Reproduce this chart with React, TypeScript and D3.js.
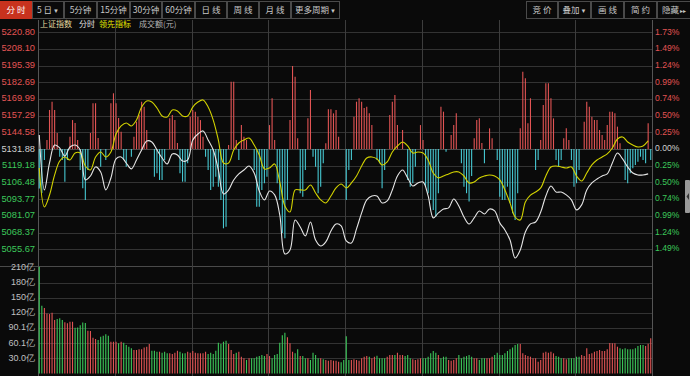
import React from "react";
import * as d3 from "d3";

const preClose = 5131.88;
const rowStep = 12.703;

const leftTicks = ["5220.80", "5208.10", "5195.39", "5182.69", "5169.99", "5157.29", "5144.58", "5131.88", "5119.18", "5106.48", "5093.77", "5081.07", "5068.37", "5055.67"];
const rightTicks = ["1.73%", "1.49%", "1.24%", "0.99%", "0.74%", "0.50%", "0.25%", "0.00%", "0.25%", "0.50%", "0.74%", "0.99%", "1.24%", "1.49%"];
const volTickLabels = ["210亿", "180亿", "150亿", "120亿", "90.1亿", "60.1亿", "30.0亿"];
const volTickValues = [210, 180, 150, 120, 90.1, 60.1, 30.0];

const leftButtons = ["分 时", "5 日", "5分钟", "15分钟", "30分钟", "60分钟", "日 线", "周 线", "月 线", "更多周期"];
const leftButtonMarks = ["", "▼", "", "", "", "", "", "", "", "▼"];
const rightButtons = ["竞 价", "叠加", "画 线", "简 约", "隐藏"];
const rightButtonMarks = ["", "▼", "", "", "▸▸"];
const legendItems = ["上证指数", "分时", "领先指标", "成交额(元)"];

// price (white) sampled every 2 minutes
const priceLine = [
  5142.6, 5100.8, 5121.3, 5135.0, 5132.7, 5126.6, 5133.5, 5135.0, 5131.2, 5108.4,
  5111.4, 5118.3, 5114.5, 5100.8, 5109.9, 5124.4, 5125.9, 5121.3, 5116.8, 5123.6,
  5131.2, 5138.1, 5137.3, 5131.2, 5125.1, 5120.6, 5128.2, 5127.4, 5122.8, 5123.6,
  5138.8, 5143.4, 5145.7, 5138.8, 5131.2, 5116.0, 5097.7, 5100.8, 5108.4, 5113.0,
  5116.0, 5119.0, 5113.7, 5100.0, 5093.2, 5100.0, 5097.0, 5081.7, 5052.1, 5055.1,
  5077.9, 5072.6, 5065.8, 5076.4, 5062.7, 5058.1, 5061.2, 5069.5, 5074.9, 5073.4,
  5062.0, 5060.4, 5071.1, 5083.3, 5093.2, 5096.2, 5096.2, 5090.9, 5092.4, 5100.8,
  5111.4, 5116.0, 5109.9, 5103.8, 5106.1, 5106.9, 5096.2, 5079.5, 5083.3, 5086.3,
  5087.1, 5093.9, 5088.6, 5080.2, 5074.9, 5079.5, 5084.8, 5082.5, 5086.3, 5084.8,
  5075.7, 5070.3, 5062.7, 5049.0, 5055.1, 5068.8, 5074.9, 5076.4, 5084.0, 5096.2,
  5103.8, 5099.2, 5099.2, 5097.0, 5093.2, 5085.6, 5089.4, 5100.8, 5106.1, 5109.1,
  5111.4, 5113.0, 5121.3, 5128.9, 5124.4, 5118.3, 5113.7, 5112.2, 5112.2, 5113.0,
];

// leading indicator (yellow) sampled every 2 minutes
const leadLine = [
  5117.5, 5087.8, 5096.9, 5112.2, 5122.8, 5125.9, 5123.6, 5128.9, 5128.9, 5119.0,
  5116.0, 5125.9, 5129.7, 5125.9, 5129.7, 5143.4, 5149.5, 5151.8, 5149.5, 5154.0,
  5163.9, 5168.5, 5167.7, 5163.2, 5157.1, 5156.3, 5161.7, 5160.9, 5157.1, 5157.1,
  5163.9, 5167.7, 5169.3, 5163.9, 5154.0, 5138.8, 5121.3, 5121.3, 5131.2, 5136.5,
  5138.8, 5140.3, 5135.0, 5127.4, 5116.8, 5117.5, 5120.6, 5106.9, 5088.6, 5084.0,
  5100.8, 5100.8, 5100.8, 5104.6, 5098.5, 5093.2, 5090.9, 5096.2, 5102.3, 5105.3,
  5102.3, 5106.1, 5111.4, 5119.0, 5125.1, 5125.9, 5124.4, 5119.8, 5122.1, 5129.7,
  5134.3, 5137.3, 5134.3, 5128.9, 5129.7, 5128.9, 5123.6, 5113.7, 5110.0, 5111.4,
  5113.0, 5114.5, 5114.5, 5111.4, 5106.1, 5106.9, 5109.9, 5111.4, 5112.2, 5111.4,
  5108.4, 5100.8, 5090.9, 5080.2, 5077.9, 5091.6, 5096.9, 5099.2, 5102.3, 5111.4,
  5118.3, 5119.0, 5118.3, 5117.5, 5118.3, 5111.4, 5107.6, 5113.7, 5119.8, 5123.6,
  5125.9, 5128.2, 5132.7, 5139.6, 5141.1, 5137.3, 5135.0, 5133.5, 5134.3, 5138.1,
];

// buy/sell strength bars around the previous close (index points), one per minute
const flow = [
  -30, -33.4, -8.3, 6.9, 29.8, 36.1, 29.8, 12.3, -5.8, -8.3,
  -24.8, -8.3, 9.4, 22.1, 19.9, 6.9, -15.9, -29.8, -38.7, -15.9,
  12.3, 34.9, 34.9, 8.4, -13.4, 0, -8.3, 0, 34.9, 42.5,
  34.9, 23.7, 13.2, -8.3, -13.4, 0, -5.8, 9.4, 20.9, 26,
  36.1, 32.3, 14.5, 0, 0, -21, -18.4, -23.5, -23.5, -8.3,
  0, 23.4, 26, 22.1, 4.6, -18.4, -24.8, -24.8, -10.8, 24.7,
  29.8, 28.5, 24.7, 22.1, 9.4, -5.8, -15.9, -31.1, -28.6, -21,
  -28.6, -38.7, -60.3, -59.1, 3.1, 51.3, 51.3, 6.9, -8.3, 18.3,
  9.4, 6.9, 0, 0, -15.9, -43.8, -43.8, -31.1, -26, -21,
  18.3, 38.7, 6.9, -26, -38.7, -63.8, -67.9, -38.7, 22.1, 63.2,
  55.1, 8.2, -33.6, -36.2, -15.9, 23.4, 45, -5.8, -13.4, -33.6,
  -28.6, -10.8, 4.4, 30.3, 30.3, 27.2, 29.8, 9.4, 0, 0,
  -38.7, -15.9, -8.3, 24.7, 36.1, 38.7, 36.1, 31.3, 32.3, 27.2,
  18.3, 0, -8.3, -10.8, -29.8, -15.9, 0, 26, 36.1, 41.2,
  18.3, 0, 14.5, 0, -23.5, -28.6, -26, -13.4, 0, 18.3,
  6.9, -28.6, -33.6, -38.7, -46.3, -51.4, -33.6, 32.3, 28.5, -2,
  0, 10.7, 18.3, 27.2, 0, -10.8, -28.6, -33.6, -39.9, -20.5,
  8.2, 22.1, 23.4, 4.6, -10.8, 0, 15.8, 8.2, 0, -8.3,
  -36.2, -38.7, -38.7, -28.6, -41.2, -48.9, -54, -33.6, 15.8, 58.9,
  53.9, 19.6, 38.7, 0, -15.9, -8.3, 6.9, 33.6, 50.1, 50.1,
  38.7, 23.4, -8.3, -13.4, -8.3, 8.2, 15.8, 6.9, -8.3, -28.6,
  -26, -15.9, 0, 20.9, 36.1, 32.3, 24.7, 22.1, 22.1, 14.5,
  10.7, 6.9, 18.3, 28.5, 28.5, 27.2, 17.1, 4.4, 0, -23.5,
  -26, -18.4, -14.6, -12.1, -9.6, -5.8, -8.3, -10.8, 19.6, -8.3,
];

// turnover per minute (亿元)
const volume = [
  212, 134.6, 130, 119, 118, 120.7, 106, 108, 109.5, 106,
  101.5, 99.5, 102.7, 102.7, 91, 91.5, 96, 101, 100, 85,
  84.5, 71, 68.4, 66.4, 73, 75, 77.7, 75, 63, 63,
  63, 59.8, 63, 61, 56.5, 53.1, 49.9, 46.5, 46.5, 47.8,
  47.8, 51.5, 53.1, 58.4, 45.2, 45.2, 43.2, 43.2, 41.2, 43.2,
  39.9, 39.9, 38.6, 41.2, 45.2, 43.2, 39.9, 39.9, 43.2, 41.2,
  44.5, 41.2, 39.9, 39.9, 39.9, 43.2, 38.6, 41.2, 38.6, 45.2,
  61, 58.4, 63, 65, 58.4, 46.5, 38.6, 41.2, 43.2, 33.2,
  30, 26.6, 30, 30, 30, 33.2, 34.5, 36.6, 34.5, 38.6,
  34.5, 30, 36.6, 38.6, 61, 76, 81, 72, 59.8, 43.2,
  39.9, 47.8, 34.5, 34.5, 30, 30, 26.6, 41.2, 36.6, 30,
  30, 27.9, 26.6, 25.3, 26.6, 25.3, 25.3, 23.3, 22, 26.6,
  74, 26.6, 26.6, 27.9, 26.6, 25.3, 30, 33.2, 34.5, 33.2,
  30, 33.2, 34.9, 30, 30, 30, 33.2, 36.6, 36.6, 36.6,
  41.2, 36.6, 36.6, 34.5, 36.6, 30, 28, 26.6, 27.9, 30,
  30, 30, 33.2, 39.9, 44.5, 41.2, 36.6, 30, 33.2, 33.2,
  26.6, 25.3, 26.6, 30, 36.6, 30, 33.2, 34.5, 36.6, 33.2,
  30, 30, 26.6, 30, 30, 30, 30, 33.2, 36.6, 41.2,
  36.6, 36.6, 39.9, 44.5, 47.8, 51.5, 56.5, 58.4, 58.4, 39.9,
  36.6, 34.5, 33.2, 30, 30, 23.3, 26.6, 41.2, 43.2, 41.2,
  43.2, 39.9, 34.5, 33.2, 30, 30, 28, 30, 30, 30,
  33.2, 33.2, 36.6, 34.5, 49.9, 38.6, 39.9, 43.2, 44.5, 46.5,
  44.5, 44.5, 47.8, 60.5, 59.8, 59.8, 53.1, 49.9, 47.8, 49.9,
  47.8, 47.8, 47.8, 49.9, 54.5, 56.5, 56.5, 54.5, 59, 69.7,
];

// 1 = up (red), 0 = down (green)
const volumeUp = [
  0, 0, 1, 1, 1, 1, 1, 0, 0, 0,
  1, 1, 1, 1, 0, 0, 0, 0, 0, 1,
  1, 1, 1, 0, 0, 0, 0, 0, 1, 1,
  1, 0, 1, 0, 0, 0, 0, 1, 1, 1,
  1, 1, 1, 1, 0, 0, 0, 1, 0, 0,
  0, 1, 1, 1, 1, 0, 0, 0, 1, 1,
  1, 1, 1, 1, 1, 1, 0, 0, 0, 0,
  0, 0, 0, 0, 1, 1, 1, 0, 1, 1,
  1, 0, 1, 0, 0, 0, 0, 0, 0, 1,
  1, 0, 0, 0, 0, 0, 0, 1, 1, 1,
  0, 0, 1, 0, 0, 1, 0, 0, 0, 0,
  1, 0, 1, 1, 1, 1, 1, 1, 0, 0,
  0, 0, 1, 1, 1, 1, 1, 1, 1, 0,
  1, 1, 0, 0, 0, 0, 1, 1, 1, 0,
  1, 1, 1, 0, 0, 0, 1, 1, 1, 1,
  0, 0, 0, 0, 0, 0, 1, 0, 0, 0,
  1, 1, 1, 1, 0, 0, 0, 0, 0, 0,
  1, 1, 0, 0, 0, 1, 1, 1, 0, 0,
  0, 0, 0, 0, 0, 0, 0, 0, 1, 1,
  1, 1, 1, 1, 1, 1, 1, 1, 1, 1,
  1, 1, 0, 0, 0, 1, 1, 0, 0, 0,
  0, 0, 1, 1, 1, 1, 1, 1, 1, 1,
  1, 1, 1, 1, 1, 1, 1, 0, 0, 0,
  0, 0, 0, 0, 0, 0, 0, 1, 1, 1,
];

const W = 690;
const H = 376;
const PL = 38;
const PR = 652;
const MAIN_TOP = 32.3;
const MAIN_BOT = 265.9;
const VOL_BOT = 373.4;

const NUM_FONT = "'Liberation Sans', Arial, sans-serif";
const CJK_FONT = "'Noto Sans CJK SC', 'Noto Sans', sans-serif";

const RED = "#e25454";
const GREEN = "#3cc85a";
const CYAN = "#46c8d2";
const GRID = "#333333";
const VGRID = "#3d3d3d";

function ButtonLabel({ cx, text, mark, active }: { cx: number; text: string; mark: string; active: boolean }) {
  return (
    <text
      x={cx}
      y={10.5}
      textAnchor="middle"
      dominantBaseline="middle"
      fontFamily={CJK_FONT}
      fontSize={8.5}
      fill={active ? "#ffffff" : "#c8c8c8"}
    >
      {text}
      {mark ? (
        <tspan fontFamily={NUM_FONT} fontSize={6} dx={1}>
          {mark}
        </tspan>
      ) : null}
    </text>
  );
}

export default function App() {
  const x = d3.scaleBand<number>().domain(d3.range(240)).range([PL, PR]);
  const bw = x.bandwidth();
  const xc = (i: number) => (x(i) as number) + bw / 2;

  const y = d3
    .scaleLinear()
    .domain([preClose - 7 * rowStep, preClose + 7 * rowStep])
    .range([MAIN_BOT, MAIN_TOP]);
  const yVol = d3.scaleLinear().domain([0, 210]).range([VOL_BOT, 267.8]);

  const lineGen = d3
    .line<number>()
    .x((_, k) => xc(k * 2))
    .y((d) => y(d))
    .curve(d3.curveCatmullRom.alpha(0.5));

  const priceTickVals = leftTicks.map((_, k) => preClose + (7 - k) * rowStep);
  const vLines = d3.range(9).map((k) => PL + (k * (PR - PL)) / 8);

  const btnW = [31, 31, 32, 32, 31, 32, 31, 31, 31, 48];
  let bx = 0;
  const leftBtnPos = btnW.map((w) => {
    const p = { x0: bx, w };
    bx += w + 1;
    return p;
  });
  const rBtnW = [31, 32, 32, 32, 33];
  let rx = 526;
  const rightBtnPos = rBtnW.map((w) => {
    const p = { x0: rx, w };
    rx += w + 1;
    return p;
  });

  const legendX = [40, 79, 99, 139];
  const legendColor = ["#e6dca0", "#e0e0e0", "#e6e600", "#b4b4b4"];

  return (
    <div style={{ position: "fixed", left: 0, top: 0, width: W, height: H, background: "#0a0a0a" }}>
      <svg width={W} height={H} style={{ display: "block" }}>
        <rect x={0} y={0} width={W} height={H} fill="#0a0a0a" />

        {/* toolbar */}
        {leftButtons.map((b, k) => {
          const p = leftBtnPos[k];
          const active = k === 0;
          return (
            <g key={"lb" + k}>
              <rect
                x={p.x0 + 0.5}
                y={1.5}
                width={p.w}
                height={17}
                fill={active ? "#c8321e" : "#0a0a0a"}
                stroke={active ? "#c8321e" : "#4a4a4a"}
              />
              <ButtonLabel cx={p.x0 + p.w / 2 + 0.5} text={b} mark={leftButtonMarks[k]} active={active} />
            </g>
          );
        })}
        {rightButtons.map((b, k) => {
          const p = rightBtnPos[k];
          return (
            <g key={"rb" + k}>
              <rect x={p.x0 + 0.5} y={1.5} width={p.w} height={17} fill="#0a0a0a" stroke="#4a4a4a" />
              <ButtonLabel cx={p.x0 + p.w / 2 + 0.5} text={b} mark={rightButtonMarks[k]} active={false} />
            </g>
          );
        })}

        {/* legend */}
        {legendItems.map((t, k) => (
          <text
            key={"lg" + k}
            x={legendX[k]}
            y={24.5}
            dominantBaseline="middle"
            fontFamily={CJK_FONT}
            fontSize={8}
            fill={legendColor[k]}
          >
            {t}
          </text>
        ))}

        {/* horizontal grid: main */}
        {priceTickVals.map((v, k) => (
          <line
            key={"hg" + k}
            x1={PL}
            x2={PR}
            y1={Math.round(y(v)) + 0.5}
            y2={Math.round(y(v)) + 0.5}
            stroke={k === 7 ? "#4a4a4a" : GRID}
          />
        ))}
        <line x1={0} x2={PR} y1={Math.round(MAIN_BOT) + 0.5} y2={Math.round(MAIN_BOT) + 0.5} stroke="#4a4a4a" />
        {volTickValues.slice(1).map((v, k) => (
          <line
            key={"vg" + k}
            x1={PL}
            x2={PR}
            y1={Math.round(yVol(v)) + 0.5}
            y2={Math.round(yVol(v)) + 0.5}
            stroke={GRID}
          />
        ))}

        {/* vertical grid */}
        {vLines.map((vx, k) => (
          <line
            key={"vl" + k}
            x1={Math.round(vx) + 0.5}
            x2={Math.round(vx) + 0.5}
            y1={20}
            y2={H}
            stroke={k === 0 || k === 8 ? "#555555" : VGRID}
          />
        ))}

        {/* strength bars */}
        {flow.map((v, i) =>
          v === 0 ? null : (
            <line
              key={"fb" + i}
              x1={xc(i)}
              x2={xc(i)}
              y1={y(preClose)}
              y2={y(preClose + v)}
              stroke={v > 0 ? RED : CYAN}
              strokeWidth={1.1}
            />
          )
        )}

        {/* lines */}
        <path d={lineGen(leadLine) || ""} fill="none" stroke="#d2d200" strokeWidth={1.1} />
        <path d={lineGen(priceLine) || ""} fill="none" stroke="#e6e6e6" strokeWidth={1.1} />

        {/* volume bars */}
        {volume.map((v, i) => (
          <line
            key={"vb" + i}
            x1={xc(i)}
            x2={xc(i)}
            y1={VOL_BOT}
            y2={yVol(v)}
            stroke={volumeUp[i] ? RED : GREEN}
            strokeWidth={1.1}
          />
        ))}

        {/* left axis labels */}
        {leftTicks.map((t, k) => (
          <text
            key={"lt" + k}
            x={35}
            y={y(priceTickVals[k])}
            textAnchor="end"
            dominantBaseline="middle"
            fontFamily={NUM_FONT}
            fontSize={9.3}
            fill={k < 7 ? RED : k === 7 ? "#d0d0d0" : GREEN}
          >
            {t}
          </text>
        ))}
        {/* right axis labels */}
        {rightTicks.map((t, k) => (
          <text
            key={"rt" + k}
            x={655}
            y={y(priceTickVals[k])}
            dominantBaseline="middle"
            fontFamily={NUM_FONT}
            fontSize={8.6}
            fill={k < 7 ? RED : k === 7 ? "#d0d0d0" : GREEN}
          >
            {t}
          </text>
        ))}
        {/* volume labels */}
        {volTickLabels.map((t, k) => (
          <text
            key={"vt" + k}
            x={35}
            y={yVol(volTickValues[k])}
            textAnchor="end"
            dominantBaseline="middle"
            fontFamily={NUM_FONT}
            fontSize={9}
            fill="#c0c0c0"
          >
            {t}
          </text>
        ))}

        {/* right side handle */}
        <rect x={685} y={180} width={5} height={33} rx={1} fill="#9a9a9a" />
        <path d="M 689 193 L 686.5 196.5 L 689 200 Z" fill="#333" />
      </svg>
    </div>
  );
}
